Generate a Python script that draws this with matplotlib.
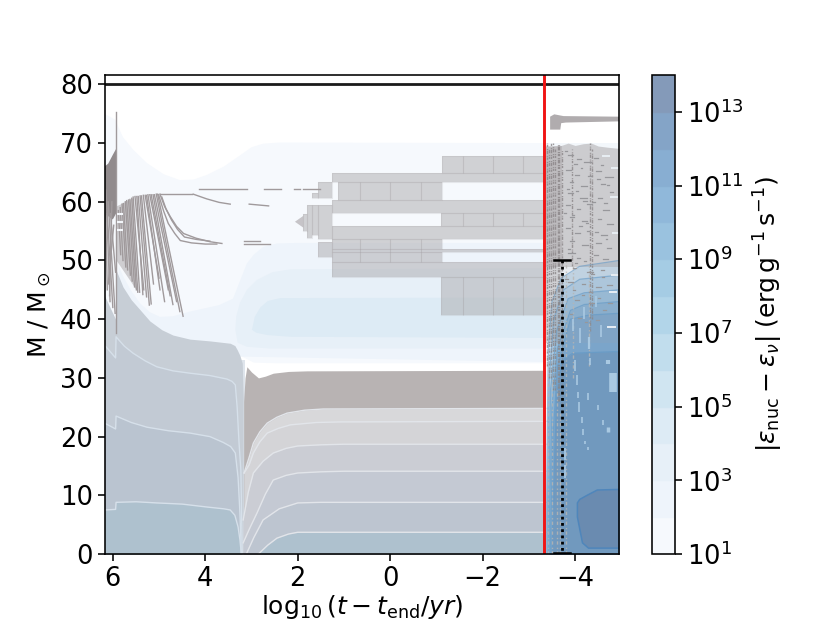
import matplotlib
matplotlib.use('Agg')
import matplotlib.pyplot as plt
import numpy as np
from matplotlib.colors import ListedColormap, LogNorm
from matplotlib.cm import ScalarMappable

# burning bands, (t, M) outlines, outer band first
band0_x = [6.18, 5.95, 5.78, 5.55, 5.26, 4.9, 4.55, 4.25, 3.96, 3.6, 3.25, 3.0, 2.75, 2.4, -3.4, -3.4, 2.5, 2.95, 3.3, 6.18]
band0_m = [75, 74, 71, 68.8, 66.6, 64.7, 63.7, 63.8, 64.6, 66, 67.9, 69.3, 69.9, 70.1, 70, 32.5, 32.5, 32.6, 34, 34]
band1_x = [-3.4, 2.0, 2.45, 2.75, 2.95, 3.1, 3.25, 3.4, 3.7, 4.33, 4.7, 4.98, 5.2, 5.41, 5.6, 5.77, 5.87, 5.9, -3.4]
band1_m = [53, 53, 52.9, 52.3, 51, 49.5, 46.5, 43.5, 42.4, 41.3, 40.5, 40.4, 41.2, 42.7, 44.8, 47.2, 49, 34, 32.7]
band2_x = [-3.4, 2.16, 2.55, 2.88, 3.1, 3.25, 3.33, 3.35, 3.3, 3.1, 2.6, -3.4]
band2_m = [48.7, 48.5, 48, 46.7, 45, 42.8, 40.5, 38.2, 36, 35.3, 35, 35]
band3_x = [-3.4, 2.38, 2.65, 2.81, 2.93, 2.99, 2.9, 2.66, 2.16, -3.4]
band3_m = [43.7, 43.6, 43.1, 42, 40.4, 38.2, 37.7, 37.3, 37, 36.8]

# gray lower left zone, before the drop at t ~ 3.2
core_x = [6.18, 5.94, 5.93, 5.78, 5.6, 5.41, 5.2, 4.94, 4.7, 4.33, 3.9, 3.46, 3.36, 3.31, 3.25, 3.2, 3.18, 3.18]
core_m = [44, 40, 48.4, 45.5, 43.3, 41.6, 39.7, 38.2, 37.3, 36.6, 36.3, 35.9, 35.5, 34.8, 33.8, 32.5, 26.7, 0]
core1_x = [6.18, 5.94, 5.93, 5.75, 5.56, 5.3, 5.05, 4.7, 4.33, 3.9, 3.53, 3.42, 3.35, 3.31, 3.27, 3.23, 3.2]
core1_m = [35.6, 33.4, 37, 35.4, 34.2, 32.9, 31.9, 31.2, 30.8, 30.4, 29.8, 29.4, 28.8, 25, 19, 14.3, 0]
core2_x = [6.18, 5.94, 5.93, 5.6, 5.26, 4.8, 4.33, 3.9, 3.61, 3.45, 3.35, 3.29, 3.25, 3.22]
core2_m = [22.3, 21.3, 23.5, 22.4, 21.6, 21, 20.6, 20, 19, 18.3, 17.2, 13, 7, 0]
core3_x = [6.18, 5.94, 5.93, 5.5, 5.05, 4.5, 3.96, 3.6, 3.46, 3.36, 3.29, 3.25, 3.22]
core3_m = [7.5, 7.6, 8.8, 8.9, 8.7, 8.5, 8, 7.7, 7.5, 6.6, 4.6, 2.4, 0]
core_colors = ['#c7ced6', '#c2cad4', '#bac4d0', '#aec1ce']

# lower zone after the drop, top of each layer
after_x = [
    [3.17, 3.14, 3.1, 3.0, 2.85, 2.7, 2.53, 2.2, 1.8, -3.4],
    [3.16, 3.05, 2.96, 2.82, 2.66, 2.45, 2.23, 1.85, 1.45, -3.4],
    [3.16, 3.05, 2.96, 2.82, 2.66, 2.42, 2.16, 1.6, 1.08, -3.4],
    [3.18, 3.07, 2.96, 2.75, 2.53, 2.25, 2.0, 1.5, 1.0, -3.4],
    [3.18, 3.05, 2.88, 2.7, 2.53, 2.25, 2.0, 1.5, 1.0, -3.4],
    [3.1, 2.95, 2.75, 2.4, 2.0, 1.5, 1.0, -3.4],
    [2.85, 2.65, 2.45, 2.2, 2.0, 1.0, -3.4],
]
after_m = [
    [26, 30, 31.9, 31, 30, 30.3, 30.8, 31.1, 31.2, 31.3],
    [13.8, 16.5, 18.9, 20.8, 22.3, 23.3, 24, 24.5, 24.7, 24.8],
    [13.8, 15.2, 17.2, 19.1, 20.6, 21.4, 22, 22.4, 22.5, 22.6],
    [5.8, 10.5, 13.8, 15.8, 17.2, 18, 18.4, 18.6, 18.7, 18.7],
    [1.9, 4.2, 7, 10.2, 12.6, 13.4, 13.8, 14, 14.1, 14.1],
    [0.2, 2.8, 5.8, 7.7, 8.7, 8.8, 8.8, 8.8],
    [0, 1.5, 2.7, 3.4, 3.7, 3.7, 3.7],
]
after_colors = ['#b8b3b3', '#d8d8da', '#d4d4d7', '#cbcdd4', '#c4c9d3', '#bdc5d0', '#aec1ce']

# after the red line, level tops
late_x = [
    [-3.37, -3.42, -3.5, -3.7, -4.1, -4.95],
    [-3.39, -3.44, -3.54, -3.75, -4.1, -4.95],
    [-3.41, -3.47, -3.6, -3.85, -4.2, -4.95],
    [-3.43, -3.5, -3.62, -3.9, -4.2, -4.95],
    [-3.46, -3.52, -3.62, -3.9, -4.3, -4.95],
    [-3.5, -3.55, -3.6, -3.72, -3.95, -4.95],
]
late_m = [
    [0, 35, 43, 47, 49, 50],
    [0, 30, 40, 45, 46.8, 47.5],
    [0, 28, 38, 43.5, 44.5, 45],
    [0, 25, 35, 41.5, 42.5, 43],
    [0, 20, 32, 40, 40.7, 41],
    [0, 15, 27, 33, 34.2, 34.5],
]
late_colors = ['#c4d9ea', '#aecce3', '#97bdda', '#87b0d2', '#7ba5ca', '#7199be']
center_x = [-4.05, -4.05, -4.16, -4.29, -4.95, -4.95, -4.48, -4.26, -4.1]
center_m = [8.7, 6.3, 1.9, 1, 1, 11, 10.9, 10, 9.3]

# convective blocks: left, right, bottom, top
block_left = [-1.13, 1.26, 1.13, 1.69, 1.26, -1.1, 1.26, 1.26, 1.26, 1.26, 1.26, -1.1,
              1.56, 1.56, 1.56, 1.69, 1.8, 1.88]
block_right = [-3.4, -3.4, -1.13, 1.56, -3.4, -3.4, -3.4, -1.13, -3.4, -1.13, -3.4, -3.4,
               1.26, 1.26, 1.26, 1.56, 1.69, 1.8]
block_bot = [64.9, 63.4, 60.3, 60.6, 58.1, 55.8, 53.7, 52, 51.5, 49.7, 47.2, 40.7,
             60.6, 53.7, 50.6, 54.4, 53.8, 55]
block_top = [67.8, 64.9, 63.4, 61.5, 60.3, 58.1, 55.8, 53.7, 52, 51.5, 49.7, 47.2,
             63.4, 59.4, 53.2, 59.4, 59.4, 58]
tip_x = [1.88, 2.06, 1.88]
tip_m = [55.6, 56.6, 57.6]
divider_x = [0.65, 0, -0.67, 0.65, 0, -0.67, -1.57, -2.22, -2.88, -1.57, -2.22, -2.88, -1.57, -2.22, -2.88]
divider_lo = [60.3, 60.3, 60.3, 49.7, 49.7, 49.7, 64.9, 64.9, 64.9, 55.8, 55.8, 55.8, 40.7, 40.7, 40.7]
divider_hi = [63.4, 63.4, 63.4, 53.7, 53.7, 53.7, 67.8, 67.8, 67.8, 58.1, 58.1, 58.1, 47.2, 47.2, 47.2]

# thin gray tracks on the left: fan lines
fan_top_x = [5.88, 5.84, 5.8, 5.77, 5.73, 5.7, 5.66, 5.63, 5.59, 5.56, 5.52, 5.48, 5.45, 5.41, 5.38, 5.34, 5.3,
             5.27, 5.24, 5.2, 5.17, 5.13, 5.1, 5.06, 5.03]
fan_top_m = [58.5, 59, 59.6, 59.7, 60, 60.2, 60.3, 60.4, 60.6, 60.8, 60.9, 60.9, 60.9, 61, 61, 61.1, 61.1,
             61.1, 61.2, 61.2, 61.2, 61.2, 61.2, 61.3, 61.3]
fan_bot_x = [5.83, 5.78, 5.72, 5.68, 5.62, 5.58, 5.53, 5.49, 5.46, 5.42, 5.33, 5.35, 5.27, 5.21, 5.17, 5.12, 5.0,
             4.98, 4.88, 4.8, 4.76, 4.7, 4.62, 4.55, 4.48]
fan_bot_m = [51, 50, 48.9, 48.4, 47.5, 46.5, 45.5, 45, 44.6, 44.6, 45, 44.2, 43.8, 42.4, 42.6, 46, 47,
             45, 43, 45, 44, 42.5, 43, 41.3, 40.5]
# single tracks
streak_x = [
    [4.98, 4.88, 4.76, 4.62, 4.47, 4.2, 3.9, 3.64],
    [5.01, 4.9, 4.8, 4.66, 4.54, 4.3, 4.0, 3.75],
    [4.94, 4.85, 4.73, 4.6, 4.45, 4.2, 3.9],
    [4.98, 4.29], [4.13, 3.1], [4.26, 3.97, 3.7, 3.46], [3.05, 2.63], [2.73, 2.37], [2.09, 1.95],
    [1.88, 1.51], [3.16, 2.81], [3.16, 2.61],
    [6.15, 6.0], [6.1, 5.95], [6.05, 5.94], [6.16, 6.12], [6.02, 6.07], [5.93, 5.93], [6.13, 6.06], [5.98, 6.1],
]
streak_m = [
    [61.3, 59.2, 57.5, 55.8, 54.6, 53.8, 53.2, 52.9],
    [61.2, 58.4, 56.3, 54.6, 53.4, 53, 52.8, 52.8],
    [60.8, 58.8, 56.9, 55.3, 54, 53.6, 53.3],
    [61.3, 61.3], [62.1, 62.1], [61.3, 60.5, 59.9, 59.6], [59.6, 59.3], [62.1, 62.1], [62.2, 62.2],
    [62.1, 62.1], [53.4, 53.4], [52.8, 52.8],
    [62, 42], [60, 41], [58, 48], [60, 45], [60, 44], [75.3, 37.6], [58, 43], [56, 46],
]
patch_x = [6.18, 6.1, 6.0, 5.93, 5.93, 6.0, 6.18]
patch_m = [66, 66.5, 68, 69, 58, 57, 58]
fan_x = [5.92, 5.56, 5.48, 5.92]
fan_m = [59.2, 60.6, 44.9, 50]
notch_m = [58, 56.6, 55.2]

# noisy area after the red line
noise_top_x = [-3.36, -3.7, -3.85, -4.0, -4.18, -4.35, -4.5, -4.7, -4.95]
noise_top_m = [69.4, 69.6, 70, 69.6, 69.9, 70, 69.5, 69.3, 69.1]
cap_x = [-3.46, -3.55, -3.75, -4.95, -4.95, -3.8, -3.7, -3.68, -3.46]
cap_m = [74.5, 74.9, 74.6, 74.5, 73.7, 73.5, 73.4, 72.3, 72.3]
column_x = [-3.4, -3.44, -3.48, -3.52, -3.57, -3.62, -3.66, -3.72, -3.94, -4.33, -4.37,
            -3.42, -3.5, -3.6, -3.68, -3.8, -3.95, -4.3]
column_lo = [32, 30, 30, 28, 28, 26, 26, 24, 49, 38, 40,
             0, 0, 0, 0, 0, 30, 32]
column_hi = [70, 69, 70, 70, 69, 70, 70, 69, 69, 70, 69,
             32, 30, 28, 24, 50, 49, 49]
column_dark = [1, 1, 1, 1, 1, 1, 1, 1, 1, 1, 1, 0, 0, 0, 0, 0, 0, 0]
dash_x = [-3.85, -4.05, -4.2, -4.4, -4.55, -3.8, -4.0, -4.45, -4.65, -3.9, -4.12, -4.55, -4.75, -3.85, -4.1, -4.5,
          -3.8, -4.05, -4.25, -4.6, -3.9, -4.15, -4.5, -4.7, -3.8, -4.0, -4.25, -4.55, -3.9, -4.15, -4.45, -4.7,
          -3.85, -4.05, -4.4, -4.6, -3.95, -4.25, -4.55, -3.85, -4.15, -4.45, -4.7, -4.0, -4.3, -4.6,
          -3.78, -3.98, -4.12, -4.28, -4.48, -4.68, -3.82, -4.02, -4.18, -4.38, -4.62, -3.76, -3.94, -4.08, -4.24, -4.42,
          -4.66, -3.84, -4.0, -4.2, -4.34, -4.58, -3.78, -3.96, -4.14, -4.3, -4.5, -4.72, -3.88, -4.06, -4.22, -4.46]
dash_m = [68, 67.3, 66.8, 67.4, 66.2, 65.4, 64.6, 65.2, 64.2, 63.4, 62.7, 63, 61.6, 61.5, 60.6, 60.7,
          59.4, 58.8, 59.6, 58.6, 57.4, 56.7, 57, 56.2, 55.5, 54.6, 55.1, 54.3, 53.3, 52.6, 53, 52.2,
          51.3, 50.5, 51, 50.2, 48.7, 48, 48.4, 46.4, 46, 45.4, 45.8, 43.2, 42.8, 41.6,
          68.6, 66.4, 65.8, 64.4, 63.9, 62.9, 62.2, 61.9, 60.2, 59.9, 59.8, 58.1, 57.8, 55.9, 56.4, 54.8,
          53.6, 52, 49.6, 49.9, 47.7, 47.2, 46.9, 44.9, 44.1, 44.6, 43.6, 42.8, 40.9, 40.2, 39.6, 39.9]
dash_len = [0.11, 0.07, 0.14, 0.09, 0.06, 0.12, 0.08, 0.1, 0.16, 0.06, 0.13, 0.09, 0.07, 0.11, 0.15, 0.08,
            0.1, 0.06, 0.12, 0.14, 0.08, 0.1, 0.07, 0.13, 0.09, 0.11, 0.06, 0.15, 0.08, 0.12, 0.1, 0.07,
            0.14, 0.06, 0.09, 0.11, 0.08, 0.13, 0.07, 0.1, 0.06, 0.12, 0.09, 0.08, 0.1, 0.07,
            0.05, 0.06, 0.04, 0.07, 0.05, 0.06, 0.04, 0.05, 0.07, 0.04, 0.06, 0.05, 0.04, 0.06, 0.05, 0.07,
            0.04, 0.06, 0.05, 0.04, 0.07, 0.05, 0.06, 0.04, 0.05, 0.06, 0.04, 0.07, 0.05, 0.06, 0.04, 0.05]
bright_x = [-4.6, -4.8, -4.77, -4.81, -4.8, -4.75, -4.72]
bright_m = [67.8, 65.8, 60.8, 54.7, 47.5, 44.6, 38.7]
light_x = [-4.0, -4.33, -4.72, -4.83, -4.05, -4.07, -4.29, -4.5, -4.09, -4.15, -4.18, -4.61, -4.72, -4.22, -4.29,
           -3.79, -3.79, -4.1, -4.3, -4.55, -4.2, -3.95, -4.45]
light_lo = [31.2, 32.2, 32.3, 27.6, 28.8, 26.6, 26.2, 24.5, 24.2, 22.3, 20.3, 22, 20.8, 18.7, 17.7,
            13, 16, 36, 35, 37, 40, 38, 42]
light_hi = [33, 33.4, 33.1, 30.8, 30.5, 27.6, 27.4, 25.4, 25.9, 23.3, 21.3, 22.8, 21.6, 19.3, 18.3,
            15.2, 18, 38.5, 37, 39, 42, 40, 44]
light_w = [1.2, 1.2, 3, 5.5, 1.2, 1.2, 1.2, 1.2, 1.2, 1.2, 1.2, 1.2, 2.5, 1.2, 1.2, 1.2, 1.2, 1.2, 1.6, 1.2, 1.2, 1.2, 1.2]

# colorbar
n_bands = 13
band_values = (np.arange(n_bands) + 0.74) / n_bands
band_rgba = plt.get_cmap('Blues')(band_values)
band_colors = band_rgba[:, :3] * 0.5 + 0.5
cbar_ticks = [1e1, 1e3, 1e5, 1e7, 1e9, 1e11, 1e13]
cbar_edges = [1e2, 1e3, 1e4, 1e5, 1e6, 1e7, 1e8, 1e9, 1e10, 1e11, 1e12, 1e13]

plt.rcParams['font.family'] = 'DejaVu Sans'
plt.rcParams['mathtext.fontset'] = 'dejavusans'
plt.rcParams['axes.linewidth'] = 1.15

fig = plt.figure(figsize=(8.3, 6.23), dpi=100)
ax = fig.add_axes([104.5 / 830, 69 / 623, 514.5 / 830, 479 / 623])
cax = fig.add_axes([652 / 830, 69 / 623, 23 / 830, 479 / 623])

# blue bands
for i, (bx, bm) in enumerate([(band0_x, band0_m), (band1_x, band1_m), (band2_x, band2_m), (band3_x, band3_m)]):
    ax.fill(bx, bm, color=band_colors[i], lw=0)
ax.fill_between([3.25, 3.13], 0, 33, color='#dfe5ec', lw=0)

# gray zones
ax.fill_between(core_x, 0, core_m, color=core_colors[0], lw=0)
for lx, lm, col in zip([core1_x, core2_x, core3_x], [core1_m, core2_m, core3_m], core_colors[1:]):
    ax.fill_between(lx, 0, lm, color=col, lw=0)
    ax.plot(lx, lm, color='#d6e0ea', lw=1)
for lx, lm, col in zip(after_x, after_m, after_colors):
    ax.fill_between(lx, 0, lm, color=col, lw=0)
    if col != after_colors[0]:
        ax.plot(lx, lm, color='#e2e5ea', lw=1)

# blocks
for left, right, bot, top in zip(block_left, block_right, block_bot, block_top):
    ax.fill_between([left, right], bot, top, color='#a8a6a9', alpha=0.48, lw=0)
    ax.plot([left, right, right, left, left], [bot, bot, top, top, bot], color='#a8a4a7', alpha=0.22, lw=0.8)
ax.fill(tip_x, tip_m, color='#a6a2a5', alpha=0.6, lw=0)
ax.vlines(divider_x, divider_lo, divider_hi, color='#a09c9f', alpha=0.35, lw=0.8)

# tracks
ax.fill(fan_x, fan_m, color='#a09a9c', alpha=0.45, lw=0)
for tx, tm, bx, bm in zip(fan_top_x, fan_top_m, fan_bot_x, fan_bot_m):
    ax.plot([tx, bx], [tm, bm], color='#a09a9c', lw=1.0)
for sx, sm in zip(streak_x, streak_m):
    ax.plot(sx, sm, color='#a09a9c', lw=1.0)
ax.fill(patch_x, patch_m, color='#918b8d', lw=0)
ax.hlines(notch_m, 5.92, 5.78, color='#f3f6fa', lw=1.5)

# after the red line
ax.fill_between([-3.36, -4.95], 0, 70, color='#f3f7fb', lw=0)
for lx, lm, col in zip(late_x, late_m, late_colors):
    ax.fill_between(lx, 0, lm, color=col, lw=0)
    ax.plot(lx, lm, color='#5f96c4', alpha=0.6, lw=0.9)
ax.fill(center_x, center_m, facecolor='#6a8bb0', edgecolor='#4f86bb', lw=1.1)
ax.fill_between(noise_top_x, 49, noise_top_m, color='#a6a2a5', alpha=0.5, lw=0)
ax.fill_between([-3.36, -4.95], 36, 49, color='#a6a2a5', alpha=0.12, lw=0)
ax.fill(cap_x, cap_m, color='#b0acae', lw=0)
ax.fill_between([-3.36, -3.72], 36, 69.5, color='#9b9698', alpha=0.3, lw=0)
for cx, lo, hi, dark in zip(column_x, column_lo, column_hi, column_dark):
    col = '#8a8587' if dark else '#b9b6b2'
    pattern = (0, (1.6, 0.6, 0.7, 1.2, 2.4, 0.5, 0.8, 1.5)) if dark else (0, (2.4, 1.5, 1, 2.2))
    ax.plot([cx, cx], [lo, hi], color=col, lw=1.0, alpha=0.8, linestyle=pattern)
for dx, dm, dl in zip(dash_x, dash_m, dash_len):
    ax.plot([dx, dx - dl], [dm, dm], color='#97979b', lw=0.9)
for bx, bm in zip(bright_x, bright_m):
    ax.plot([bx, bx - 0.14], [bm, bm], color='#e8eef4', lw=1.4)
for lx, lo, hi, w in zip(light_x, light_lo, light_hi, light_w):
    ax.plot([lx, lx], [lo, hi], color='#a9c9e2', lw=w, solid_capstyle='butt')

# marker, limit lines
ax.plot([-3.72, -3.72], [50, 0], color='black', lw=2, linestyle=(0, (1, 1.25)))
ax.plot([-3.55, -3.88], [50, 50], color='black', lw=1.8)
ax.plot([-3.55, -3.88], [0.2, 0.2], color='black', lw=1.8)
ax.axhline(80, color='#1a1a1a', lw=2)
ax.axvline(-3.33, color='#f01414', lw=2.1)

ax.set_xlim(6.18, -4.95)
ax.set_ylim(0, 81.6)
ax.set_xticks([6, 4, 2, 0, -2, -4])
ax.set_yticks([0, 10, 20, 30, 40, 50, 60, 70, 80])
ax.set_xticklabels(['6', '4', '2', '0', '\N{MINUS SIGN}2', '\N{MINUS SIGN}4'])
ax.tick_params(labelsize=18.5, length=5, width=1.15)
ax.set_xlabel(r'$\log_{10}(t-t_{\rm end}/yr)$', fontsize=18, labelpad=1)
ax.set_ylabel(r'M / M$_\odot$', fontsize=18, labelpad=5)

cmap = ListedColormap(band_colors)
mappable = ScalarMappable(norm=LogNorm(vmin=1e1, vmax=1e14), cmap=cmap)
cbar = fig.colorbar(mappable, cax=cax)
cbar.set_ticks(cbar_ticks)
cbar.ax.minorticks_off()
cbar.ax.tick_params(labelsize=18.5, length=5, width=1.15)
cbar.ax.hlines(cbar_edges, 0, 1, colors=band_colors[1:], lw=1, alpha=0.9)
cbar.set_label(r'$|\varepsilon_{\rm nuc}-\varepsilon_{\nu}|\;({\rm erg\,g^{-1}\,s^{-1}})$', fontsize=18, labelpad=6)

fig.savefig('out.png', dpi=100)
